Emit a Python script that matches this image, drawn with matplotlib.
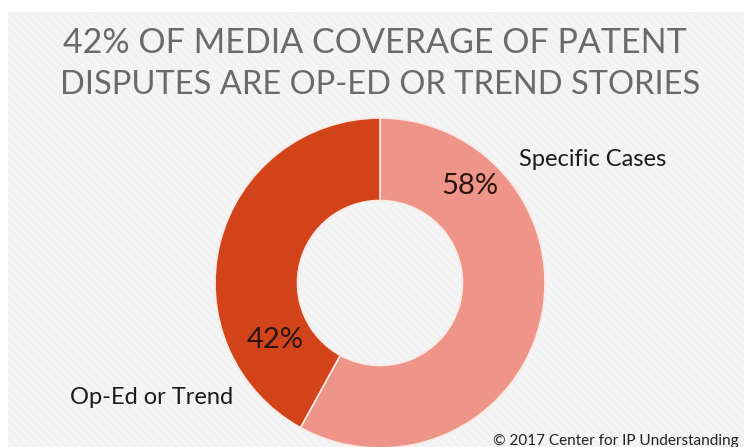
import matplotlib
matplotlib.use("Agg")
import matplotlib.pyplot as plt
from matplotlib.patches import Rectangle

title_lines = ["42% OF MEDIA COVERAGE OF PATENT", "DISPUTES ARE OP-ED OR TREND STORIES"]
categories = ["Specific Cases", "Op-Ed or Trend"]
values = [58, 42]
pct_labels = ["58%", "42%"]
colors = ["#ef9488", "#d3431a"]
credit = "© 2017 Center for IP Understanding"

W, H = 744, 447
fig = plt.figure(figsize=(W / 100, H / 100), dpi=100)
fig.patch.set_facecolor("white")

plt.rcParams["hatch.linewidth"] = 0.8
bg = Rectangle((8 / W, 0), 1 - 8 / W, 1 - 12 / H, transform=fig.transFigure,
               facecolor="#f2f2f2", edgecolor="#f9f9f9", hatch="\\\\\\\\",
               linewidth=0, zorder=-10)
fig.patches.append(bg)

cx, cy, r = 380, 283, 165
ax = fig.add_axes([(cx - r) / W, (H - cy - r) / H, 2 * r / W, 2 * r / H])
ax.set_zorder(2)
ax.set_facecolor("none")
wedges, _ = ax.pie(values, colors=colors, startangle=90, counterclock=False,
                   radius=1, wedgeprops=dict(width=0.5, edgecolor="#fbe9e4", linewidth=1.2))
ax.set_xlim(-1, 1)
ax.set_ylim(-1, 1)
ax.set_aspect("equal")
ax.axis("off")

def to_data(px, py):
    return (px - cx) / r, (cy - py) / r

font = "Lato"
x, y = to_data(470, 186)
ax.text(x, y, pct_labels[0], ha="center", va="center", fontsize=21,
        color="#2a1410", family=font, clip_on=False)
x, y = to_data(275, 340)
ax.text(x, y, pct_labels[1], ha="center", va="center", fontsize=21,
        color="#2a1410", family=font, clip_on=False)
x, y = to_data(519, 160)
ax.text(x, y, categories[0], ha="left", va="center", fontsize=17,
        color="#1a1a1a", family=font, clip_on=False)
x, y = to_data(70, 397)
ax.text(x, y, categories[1], ha="left", va="center", fontsize=17,
        color="#1a1a1a", family=font, clip_on=False)

fig.text(375 / W, 1 - 43 / H, title_lines[0], ha="center", va="center",
         fontsize=24.5, color="#6a6a6a", family=font)
fig.text(380 / W, 1 - 85 / H, title_lines[1], ha="center", va="center",
         fontsize=23.5, color="#6a6a6a", family=font)

fig.text(493 / W, 1 - 441 / H, credit, ha="left", va="center",
         fontsize=11, color="#222222", family=font)

fig.savefig("out.png", dpi=100, facecolor=fig.get_facecolor())
